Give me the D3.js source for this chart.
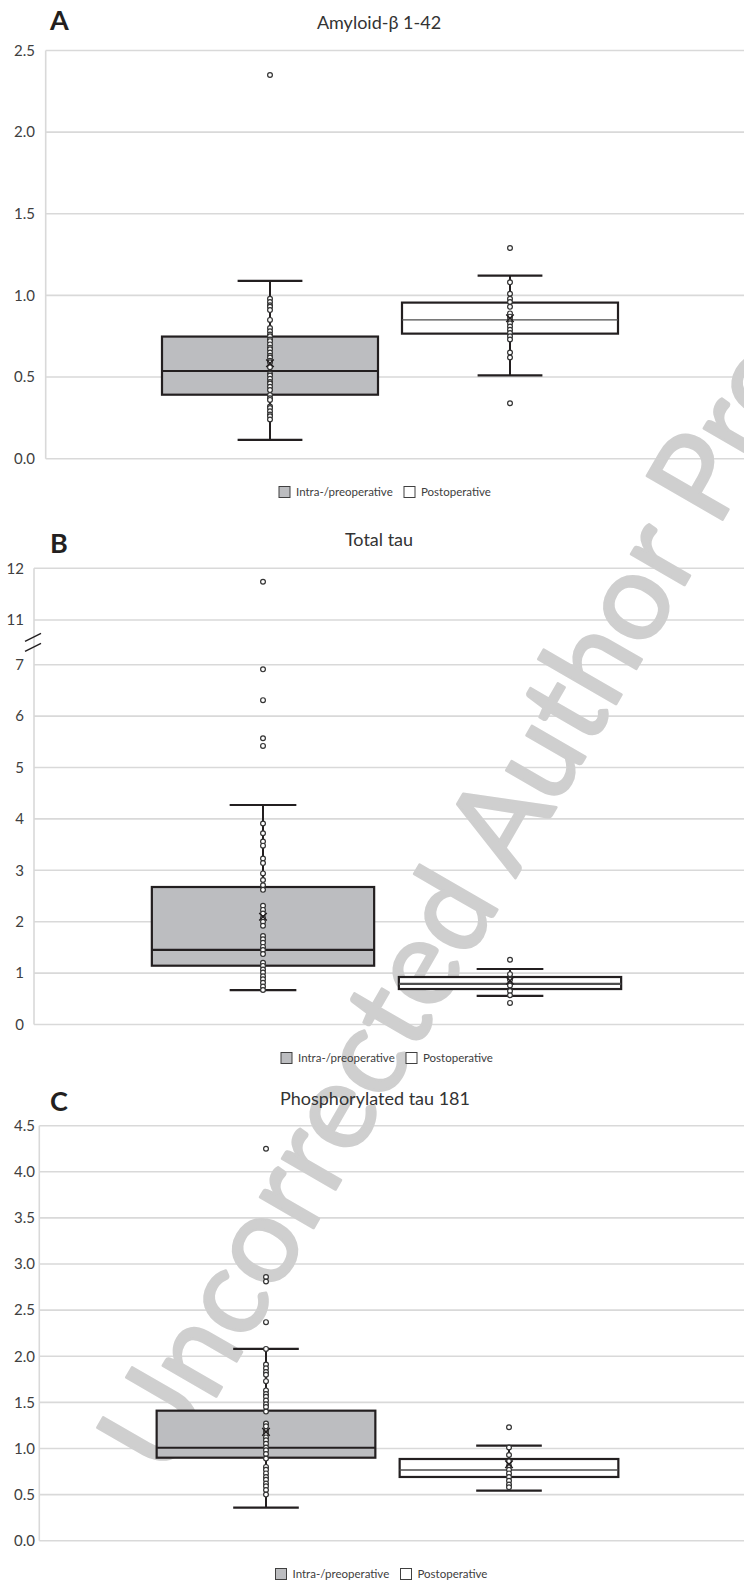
<!DOCTYPE html>
<html>
<head>
<meta charset="utf-8">
<script src="https://d3js.org/d3.v7.min.js"></script>
<style>
  html, body { margin: 0; padding: 0; background: #fff; }
  svg { display: block; font-family: Lato, "Open Sans", sans-serif; }
</style>
</head>
<body>
<div id="chart"></div>
<script>
// series + titles
const seriesNames = ['Intra-/preoperative', 'Postoperative'];
const panelLetters = ['A', 'B', 'C'];
const panelTitles = ['Amyloid-β 1-42', 'Total tau', 'Phosphorylated tau 181'];

// tick labels
const abTicks = [0, 0.5, 1.0, 1.5, 2.0, 2.5];
const ttTicks = [0, 1, 2, 3, 4, 5, 6, 7, 11, 12];
const ptTicks = [0, 0.5, 1.0, 1.5, 2.0, 2.5, 3.0, 3.5, 4.0, 4.5];

// box stats: [whisker low, Q1, median, Q3, whisker high, mean]
const abIntraStats = [0.115, 0.392, 0.537, 0.748, 1.089, 0.585];
const abPostStats  = [0.51, 0.766, 0.85, 0.956, 1.121, 0.86];
const ttIntraStats = [0.67, 1.144, 1.45, 2.675, 4.27, 2.097];
const ttPostStats  = [0.555, 0.69, 0.79, 0.924, 1.08, 0.85];
const ptIntraStats = [0.358, 0.90, 1.009, 1.41, 2.079, 1.18];
const ptPostStats  = [0.542, 0.691, 0.767, 0.886, 1.03, 0.829];

// individual points
const abIntraPoints = [2.35, 0.98, 0.96, 0.94, 0.93, 0.91, 0.85, 0.80, 0.78, 0.76, 0.75, 0.73, 0.72, 0.70, 0.68,
  0.67, 0.65, 0.63, 0.62, 0.60, 0.59, 0.56, 0.52, 0.51, 0.49, 0.47, 0.46, 0.44, 0.42, 0.39, 0.37, 0.36, 0.32,
  0.31, 0.29, 0.27, 0.26, 0.24];
const abPostPoints = [1.29, 1.08, 1.01, 0.98, 0.96, 0.93, 0.89, 0.87, 0.85, 0.83, 0.81, 0.79, 0.77, 0.75, 0.73,
  0.65, 0.62, 0.34];
const ttIntraPoints = [11.74, 6.91, 6.31, 5.57, 5.42, 3.91, 3.72, 3.56, 3.48, 3.23, 3.14, 2.94, 2.81, 2.71, 2.62,
  2.31, 2.23, 2.16, 2.07, 2.00, 1.92, 1.72, 1.66, 1.59, 1.51, 1.45, 1.37, 1.20, 1.14, 1.07, 1.01, 0.94, 0.88,
  0.81, 0.74, 0.67];
const ttPostPoints = [1.26, 0.98, 0.87, 0.76, 0.65, 0.57, 0.42];
const ptIntraPoints = [4.25, 2.86, 2.81, 2.37, 2.08, 1.91, 1.87, 1.83, 1.80, 1.73, 1.63, 1.59, 1.56, 1.52, 1.48,
  1.45, 1.40, 1.27, 1.24, 1.19, 1.16, 1.12, 1.09, 1.05, 1.01, 0.98, 0.94, 0.89, 0.80, 0.77, 0.73, 0.69, 0.66,
  0.62, 0.59, 0.55, 0.50];
const ptPostPoints = [1.23, 1.01, 0.93, 0.86, 0.81, 0.77, 0.73, 0.69, 0.65, 0.61, 0.58];

const watermark = 'Uncorrected Author Proof';

const width = 744, height = 1584;
const gridRight = 744;
const boxFill = ['#bcbdc0', '#ffffff'];
const ink = '#231f20';

// layout per panel (pixels only)
const panels = [
  {
    ticks: abTicks, stats: [abIntraStats, abPostStats], points: [abIntraPoints, abPostPoints],
    y: d3.scaleLinear().domain([0, 2.5]).range([458.7, 50.5]),
    axisX: 45.7, labelX: 35, xRange: [150, 630], fmt: d3.format('.1f'),
    letterY: 30, titleX: 379, titleY: 29, legendX: 279, legendY: 492, medianW: [2, 1.4]
  },
  {
    ticks: ttTicks, stats: [ttIntraStats, ttPostStats], points: [ttIntraPoints, ttPostPoints],
    y: d3.scaleLinear().domain([0, 7, 11, 12]).range([1024.5, 664.7, 620, 568.3]),
    axisX: 34, labelX: 24, xRange: [139.5, 633.5], fmt: d3.format('d'),
    letterY: 552.5, titleX: 379, titleY: 546, legendX: 281, legendY: 1058, medianW: [2.2, 2.2],
    brk: true
  },
  {
    ticks: ptTicks, stats: [ptIntraStats, ptPostStats], points: [ptIntraPoints, ptPostPoints],
    y: d3.scaleLinear().domain([0, 4.5]).range([1540.7, 1125.7]),
    axisX: 39.3, labelX: 35, xRange: [144.5, 630.5], fmt: d3.format('.1f'),
    letterY: 1111, titleX: 375, titleY: 1105, legendX: 275.5, legendY: 1574, medianW: [2, 1.4]
  }
];

const svg = d3.select('#chart').append('svg')
  .attr('width', width)
  .attr('height', height);

const gridLayer = svg.append('g').attr('class', 'grid-layer');
const wmLayer = svg.append('g').attr('class', 'watermark-layer');
const markLayer = svg.append('g').attr('class', 'mark-layer');

panels.forEach((p, pi) => {
  const y = p.y;
  const x = d3.scaleBand()
    .domain(seriesNames)
    .range(p.xRange)
    .paddingInner(0.1)
    .paddingOuter(0.05);
  const bw = x.bandwidth();
  const capW = bw * 0.3;
  const yTop = y(d3.max(p.ticks));
  const yBottom = y(0);

  // gridlines
  gridLayer.append('g')
    .selectAll('line')
    .data(p.ticks)
    .join('line')
    .attr('x1', p.axisX)
    .attr('x2', gridRight)
    .attr('y1', d => y(d))
    .attr('y2', d => y(d))
    .style('stroke', '#d9d9d9')
    .style('stroke-width', 1.6);

  // value axis line
  gridLayer.append('line')
    .attr('x1', p.axisX).attr('x2', p.axisX)
    .attr('y1', yTop).attr('y2', yBottom)
    .style('stroke', '#d9d9d9')
    .style('stroke-width', 1.6);

  // tick labels
  const yAxis = d3.axisLeft(y).tickValues(p.ticks).tickFormat(p.fmt).tickSize(0).tickPadding(0);
  const axG = gridLayer.append('g')
    .attr('transform', `translate(${p.labelX},0)`)
    .call(yAxis);
  axG.select('.domain').remove();
  axG.selectAll('text')
    .style('font-family', 'Lato, sans-serif')
    .style('font-size', '15px')
    .style('fill', '#404040');

  // axis break marks
  if (p.brk) {
    const mid = (y(7) + y(11)) / 2;
    [-5, 5].forEach(off => {
      gridLayer.append('line')
        .attr('x1', p.axisX - 9).attr('x2', p.axisX + 7)
        .attr('y1', mid + off + 4).attr('y2', mid + off - 4)
        .style('stroke', ink)
        .style('stroke-width', 1.3);
    });
  }

  // panel letter + title
  markLayer.append('text')
    .attr('x', 50)
    .attr('y', p.letterY)
    .style('font-family', 'Lato, sans-serif')
    .style('font-weight', 'bold')
    .style('font-size', '27px')
    .style('fill', ink)
    .text(panelLetters[pi]);

  markLayer.append('text')
    .attr('x', p.titleX)
    .attr('y', p.titleY)
    .attr('text-anchor', 'middle')
    .style('font-family', 'Lato, sans-serif')
    .style('font-size', '18px')
    .style('fill', '#333')
    .text(panelTitles[pi]);

  // boxes
  seriesNames.forEach((name, si) => {
    const [lo, q1, med, q3, hi, mean] = p.stats[si];
    const cx = x(name) + bw / 2;
    const g = markLayer.append('g').attr('class', 'box');

    // whisker stems
    g.append('line')
      .attr('x1', cx).attr('x2', cx)
      .attr('y1', y(hi)).attr('y2', y(lo))
      .style('stroke', ink).style('stroke-width', 2);

    // whisker caps
    g.selectAll('line.cap')
      .data([lo, hi])
      .join('line')
      .attr('class', 'cap')
      .attr('x1', cx - capW / 2).attr('x2', cx + capW / 2)
      .attr('y1', d => y(d)).attr('y2', d => y(d))
      .style('stroke', ink).style('stroke-width', 2.2);

    // box
    g.append('rect')
      .attr('x', x(name))
      .attr('y', y(q3))
      .attr('width', bw)
      .attr('height', y(q1) - y(q3))
      .style('fill', boxFill[si])
      .style('stroke', ink)
      .style('stroke-width', 2.2);

    // median
    g.append('line')
      .attr('x1', x(name)).attr('x2', x(name) + bw)
      .attr('y1', y(med)).attr('y2', y(med))
      .style('stroke', si === 0 ? ink : '#4d4d4d')
      .style('stroke-width', p.medianW[si]);

    // points
    g.selectAll('circle')
      .data(p.points[si])
      .join('circle')
      .attr('cx', cx)
      .attr('cy', d => y(d))
      .attr('r', 2.4)
      .style('fill', '#fff')
      .style('stroke', '#333')
      .style('stroke-width', 1.2);

    // mean marker
    const my = y(mean), s = 3.8;
    g.append('path')
      .attr('d', `M${cx - s},${my - s}L${cx + s},${my + s}M${cx - s},${my + s}L${cx + s},${my - s}`)
      .style('stroke', ink)
      .style('stroke-width', 1.4)
      .style('fill', 'none');
  });

  // legend
  const lg = markLayer.append('g')
    .attr('transform', `translate(${p.legendX},${p.legendY})`);
  const items = lg.selectAll('g')
    .data(seriesNames)
    .join('g')
    .attr('transform', (d, i) => `translate(${i * 125},0)`);
  items.append('rect')
    .attr('x', 0).attr('y', -5.5)
    .attr('width', 11).attr('height', 11)
    .style('fill', (d, i) => boxFill[i])
    .style('stroke', '#404040')
    .style('stroke-width', 1);
  items.append('text')
    .attr('x', 17)
    .attr('y', 0)
    .attr('dy', '0.36em')
    .style('font-family', 'Lato, sans-serif')
    .style('font-size', '11.5px')
    .style('fill', '#404040')
    .text(d => d);
});

// watermark
wmLayer.append('text')
  .attr('transform', 'translate(168,1480) rotate(-60)')
  .style('font-family', 'Lato, sans-serif')
  .style('font-size', '122px')
  .style('fill', '#cfcfcf')
  .style('stroke', '#cfcfcf')
  .style('stroke-width', 2.5)
  .style('stroke-linejoin', 'round')
  .text(watermark);
</script>
</body>
</html>
